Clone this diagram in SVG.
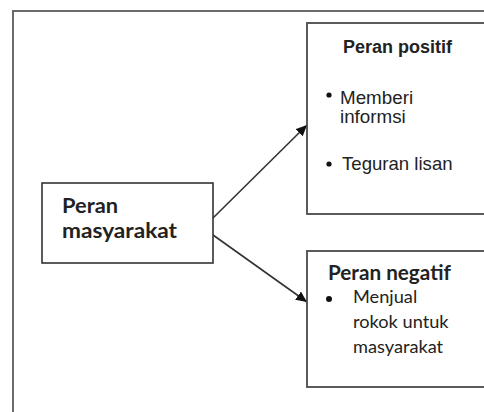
<svg xmlns="http://www.w3.org/2000/svg" width="484" height="412" viewBox="0 0 484 412">
<defs>
<style>
.frame{fill:none;stroke:#6a6a6a;stroke-width:2}
.box{fill:#fff;stroke:#4a4a4a;stroke-width:1.8}
.cbox{fill:#fff;stroke:#333;stroke-width:1.6}
.conn{stroke:#333;stroke-width:1.6;fill:none}
.ar{font-family:"Liberation Sans",Arial,sans-serif;fill:#222}
.ca{font-family:Lato,"Open Sans",sans-serif;fill:#222}
.b{font-weight:bold}
.dot{fill:#111}
</style>
<marker id="ah" markerUnits="userSpaceOnUse" markerWidth="12" markerHeight="10" refX="11" refY="5" orient="auto">
<path d="M0,0 L11,5 L0,10 z" fill="#111"/>
</marker>
</defs>
<rect width="484" height="412" fill="#fff"/>
<path class="frame" d="M13,420 L13,11 L490,11"/>
<g id="connectors">
<line class="conn" x1="213" y1="218" x2="307" y2="125" marker-end="url(#ah)"/>
<line class="conn" x1="213" y1="235" x2="307" y2="302" marker-end="url(#ah)"/>
</g>
<g id="peran-masyarakat">
<rect class="cbox" x="42" y="183" width="171" height="80"/>
<text class="ca b" x="62" y="213" font-size="21" textLength="56" lengthAdjust="spacingAndGlyphs">Peran</text>
<text class="ca b" x="62" y="238" font-size="21" textLength="115" lengthAdjust="spacingAndGlyphs">masyarakat</text>
</g>
<g id="peran-positif">
<rect class="box" x="307" y="23" width="190" height="191"/>
<text class="ar b" x="343" y="53" font-size="18">Peran positif</text>
<circle class="dot" cx="329" cy="95" r="2.6"/>
<text class="ar" x="340" y="104" font-size="18.8">Memberi</text>
<text class="ar" x="340" y="123" font-size="18.8">informsi</text>
<circle class="dot" cx="329" cy="164" r="2.6"/>
<text class="ar" x="342" y="170" font-size="18.6">Teguran lisan</text>
</g>
<g id="peran-negatif">
<rect class="box" x="307" y="251" width="190" height="136"/>
<text class="ca b" x="328" y="280" font-size="20.7">Peran negatif</text>
<circle class="dot" cx="329" cy="299" r="3"/>
<text class="ca" x="353" y="303" font-size="18.2">Menjual</text>
<text class="ca" x="353" y="328" font-size="18.2">rokok untuk</text>
<text class="ca" x="353" y="353" font-size="18.2">masyarakat</text>
</g>
</svg>
